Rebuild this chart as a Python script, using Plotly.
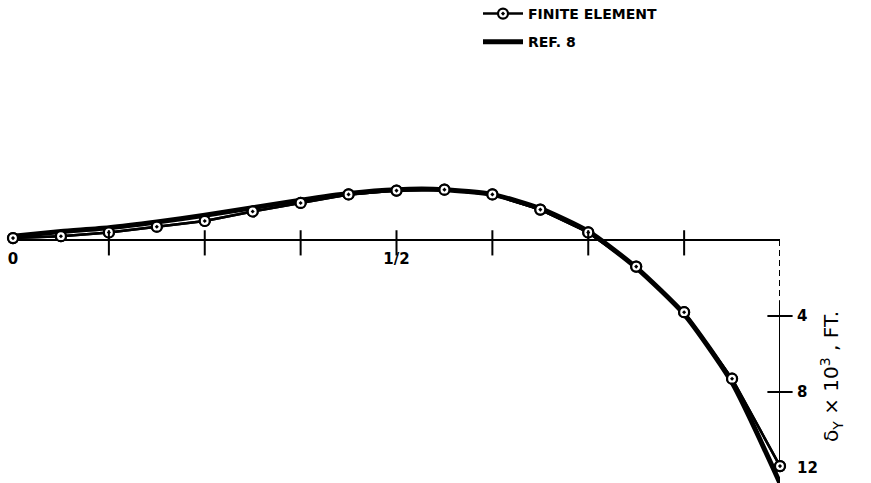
import plotly.graph_objects as go

# ---- data ----
eta_fe = [i / 16 for i in range(17)]
delta_fe = [-0.1, -0.2, -0.4, -0.7, -1.0, -1.5, -1.95, -2.4, -2.6, -2.65, -2.4, -1.6, -0.4, 1.4, 3.8, 7.3, 11.9]
eta_ref = [i / 16 for i in range(17)]
delta_ref = [-0.2, -0.45, -0.65, -0.95, -1.3, -1.7, -2.1, -2.45, -2.65, -2.65, -2.4, -1.65, -0.45, 1.45, 3.9, 7.5, 12.8]
x_cross_ticks = [1 / 8, 2 / 8, 3 / 8, 4 / 8, 5 / 8, 6 / 8, 7 / 8]
x_tick_vals = [0, 0.5]
x_tick_text = ["0", "1/2"]
y_tick_vals = [4, 8, 12]
y_tick_text = ["4", "8", "12"]
y_cross_ticks = [4, 8]

W, H = 871, 483
FONT = "DejaVu Sans"
x0px, x1px = 13, 780
y0px, ppu = 240, 19.0

fig = go.Figure()

fig.add_trace(go.Scatter(
    x=eta_fe, y=delta_fe, mode="lines+markers", name="FINITE ELEMENT",
    line=dict(color="black", width=2.5),
    marker=dict(symbol="circle-dot", size=10, color="white",
                line=dict(color="black", width=2.2)),
    cliponaxis=False, legendgroup="a", legendrank=1,
))
fig.add_trace(go.Scatter(
    x=eta_ref, y=delta_ref, mode="lines", name="REF. 8",
    line=dict(color="black", width=5, shape="spline", smoothing=0.6),
    cliponaxis=False, legendgroup="b", legendrank=2,
))
# re-draw FE on top of the reference line (no legend)
fig.add_trace(go.Scatter(
    x=eta_fe, y=delta_fe, mode="lines+markers", showlegend=False,
    line=dict(color="black", width=2.5),
    marker=dict(symbol="circle-dot", size=10, color="white",
                line=dict(color="black", width=2.2)),
    cliponaxis=False, hoverinfo="skip",
))
# cross tick marks on the horizontal axis
fig.add_trace(go.Scatter(
    x=x_cross_ticks, y=[0.15] * len(x_cross_ticks), mode="markers",
    marker=dict(symbol="line-ns-open", size=18, color="black",
                line=dict(color="black", width=2)),
    showlegend=False, hoverinfo="skip", cliponaxis=False,
))
# cross tick marks on the vertical axis
fig.add_trace(go.Scatter(
    x=[1] * len(y_cross_ticks), y=y_cross_ticks, mode="markers",
    marker=dict(symbol="line-ew-open", size=18, color="black",
                line=dict(color="black", width=2)),
    showlegend=False, hoverinfo="skip", cliponaxis=False,
))

shapes = [
    dict(type="line", x0=0, x1=1, y0=0, y1=0, xref="x", yref="y",
         line=dict(color="black", width=2), layer="below"),
    dict(type="line", x0=1, x1=1, y0=0, y1=3.2, xref="x", yref="y",
         line=dict(color="black", width=2, dash="6px,4px"), layer="below"),
    dict(type="line", x0=1, x1=1, y0=3.2, y1=12, xref="x", yref="y",
         line=dict(color="black", width=2), layer="below"),
]

annotations = [
    dict(text="— <i>η/α</i>", x=1.015, y=0, xref="x", yref="y", xanchor="left",
         yanchor="middle", showarrow=False, font=dict(family=FONT, size=18, color="black")),
    dict(text="δ<sub>Y</sub> × 10<sup>3</sup> , FT.", x=831 / W, y=1 - 377 / H,
         xref="paper", yref="paper", textangle=-90, showarrow=False,
         xanchor="center", yanchor="middle",
         font=dict(family=FONT, size=20, color="black")),
]

fig.update_layout(
    width=W, height=H,
    margin=dict(l=0, r=0, t=0, b=0, autoexpand=False),
    paper_bgcolor="white", plot_bgcolor="white",
    showlegend=True,
    legend=dict(x=478 / W, y=1 + 2 / H, xanchor="left", yanchor="top",
                bgcolor="rgba(0,0,0,0)", traceorder="grouped", tracegroupgap=7,
                font=dict(family=FONT, size=14, color="black", weight="bold"),
                itemwidth=40),
    xaxis=dict(domain=[x0px / W, x1px / W], range=[0, 1], showgrid=False,
               zeroline=False, showline=False, anchor="free", automargin=False,
               position=1 - y0px / H, tickvals=x_tick_vals, ticktext=x_tick_text,
               ticks="", ticklabelstandoff=8,
               tickfont=dict(family=FONT, size=15, color="black", weight="bold")),
    yaxis=dict(domain=[0, 1], range=[(H - y0px) / ppu, -y0px / ppu], showgrid=False,
               zeroline=False, showline=False, anchor="free", side="right",
               position=x1px / W, automargin=False,
               tickvals=y_tick_vals, ticktext=y_tick_text, ticks="",
               ticklabelstandoff=16,
               tickfont=dict(family=FONT, size=15, color="black", weight="bold")),
    shapes=shapes,
    annotations=annotations,
)

fig.write_html("out.html", config={"displayModeBar": False},
               post_script="document.body.style.margin='0';")
